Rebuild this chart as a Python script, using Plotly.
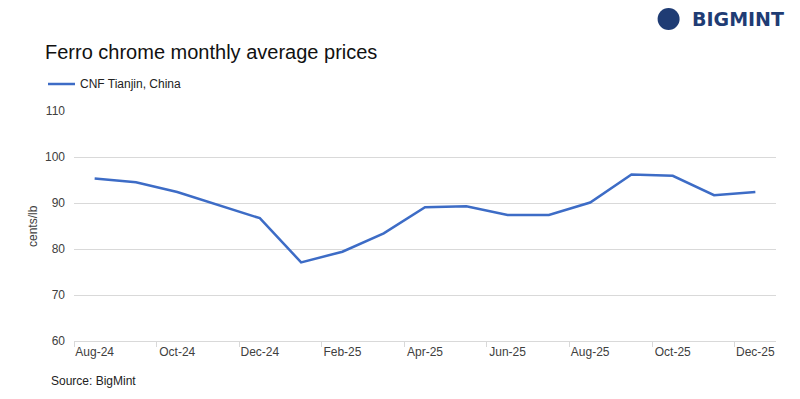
import plotly.graph_objects as go

months = ["Aug-24", "Sep-24", "Oct-24", "Nov-24", "Dec-24", "Jan-25", "Feb-25", "Mar-25",
          "Apr-25", "May-25", "Jun-25", "Jul-25", "Aug-25", "Sep-25", "Oct-25", "Nov-25", "Dec-25"]
prices = [95.3, 94.5, 92.4, 89.6, 86.7, 77.1, 79.4, 83.4,
          89.1, 89.3, 87.4, 87.4, 90.1, 96.2, 95.9, 91.7, 92.4]
series_name = "CNF Tianjin, China"
y_ticks = [60, 70, 80, 90, 100, 110]

x_idx = list(range(len(months)))
label_idx = x_idx[::2]
label_txt = months[::2]
boundaries = [i - 0.5 for i in range(0, len(months) + 1, 2)]

fig = go.Figure()
fig.add_trace(go.Scatter(x=x_idx, y=prices, mode="lines", name=series_name,
                         line=dict(color="#3D6CC6", width=2.5), showlegend=False))

font_family = "Liberation Sans, Arial, sans-serif"

# page body has an 8px default margin, so the figure is 792x391
fig.update_layout(
    width=792, height=391,
    paper_bgcolor="white", plot_bgcolor="white",
    margin=dict(l=66, r=24, t=103, b=58, autoexpand=False),
    font=dict(family=font_family, size=12, color="#404040"),
    xaxis=dict(range=[-0.5, len(months) - 0.5], tickmode="array", tickvals=label_idx,
               ticktext=label_txt, ticks="", showgrid=False, showline=True,
               linecolor="#d9d9d9", linewidth=1, zeroline=False, automargin=False,
               tickfont=dict(size=12, color="#404040"),
               minor=dict(tickmode="array", tickvals=boundaries, ticks="outside",
                          ticklen=5, tickcolor="#d9d9d9", showgrid=False)),
    yaxis=dict(range=[60, 110], tickmode="array", tickvals=y_ticks, showgrid=True,
               gridcolor="#d9d9d9", gridwidth=1, zeroline=False, showline=False,
               ticks="", ticklabelstandoff=8, automargin=False,
               tickfont=dict(size=12, color="#404040")),
    showlegend=False,
)

# Y-axis title
fig.add_annotation(text="cents/lb", xref="paper", yref="paper", x=0, y=0.5,
                   xanchor="center", yanchor="middle", xshift=-41, textangle=-90,
                   showarrow=False, font=dict(size=12, color="#404040"))
# Title
fig.add_annotation(text="Ferro chrome monthly average prices", xref="paper", yref="paper",
                   x=-0.044, y=1.0, xanchor="left", yanchor="middle", showarrow=False,
                   font=dict(size=20, color="#111111", family=font_family),
                   yshift=59)
# Legend
fig.add_shape(type="line", xref="paper", yref="paper", ysizemode="pixel", yanchor=1.0,
              x0=-0.037, x1=0.0014, y0=27, y1=27,
              line=dict(color="#3D6CC6", width=2.5))
fig.add_annotation(text=series_name, xref="paper", yref="paper", x=0.006, y=1.0,
                   xanchor="left", yanchor="middle", yshift=27, showarrow=False,
                   font=dict(size=12, color="#222222"))
# Source
fig.add_annotation(text="Source: BigMint", xref="paper", yref="paper", x=-0.035, y=0,
                   xanchor="left", yanchor="middle", showarrow=False, yshift=-40,
                   font=dict(size=12, color="#222222"))
# Logo
fig.add_shape(type="circle", xref="paper", yref="paper", xsizemode="pixel", ysizemode="pixel",
              xanchor=0.847, yanchor=1.0, x0=-11, x1=11, y0=81, y1=103,
              fillcolor="#1F3C74", line=dict(width=0))
fig.add_annotation(text="<b>BIGMINT</b>", xref="paper", yref="paper", x=0.878, y=1.0,
                   xanchor="left", yanchor="middle", yshift=92, showarrow=False,
                   font=dict(size=19, color="#1F3C74", family="DejaVu Sans, sans-serif"))

fig.write_html("out.html")
